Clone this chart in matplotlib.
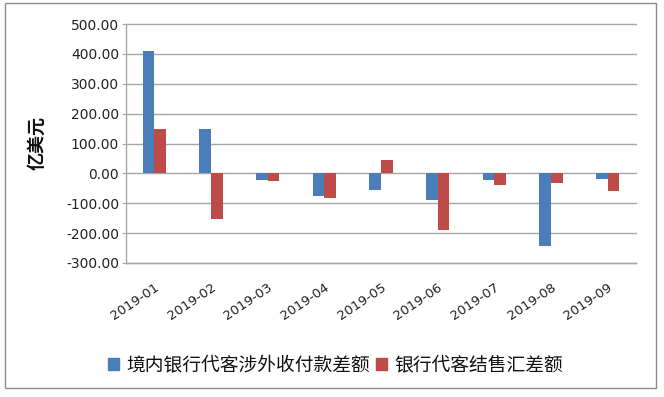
import matplotlib
matplotlib.use('Agg')
import matplotlib.pyplot as plt
import numpy as np
from matplotlib.patches import Rectangle

plt.rcParams['font.family'] = ['DejaVu Sans', 'Noto Sans CJK SC']

categories = ['2019-01', '2019-02', '2019-03', '2019-04', '2019-05',
              '2019-06', '2019-07', '2019-08', '2019-09']
series_names = ['境内银行代客涉外收付款差额', '银行代客结售汇差额']
cross_border_balance = [410, 149, -22, -77, -57, -89, -22, -242, -20]
fx_settlement_balance = [149, -152, -27, -81, 45, -189, -40, -31, -58]
y_ticks = [-300, -200, -100, 0, 100, 200, 300, 400, 500]
y_tick_labels = ['-300.00', '-200.00', '-100.00', '0.00', '100.00',
                 '200.00', '300.00', '400.00', '500.00']
y_label = '亿美元'

W, H = 664, 397
fig = plt.figure(figsize=(W / 100, H / 100), dpi=100)
fig.patch.set_facecolor('white')

# outer chart border
fig.patches.append(Rectangle((5 / W, 1 - 388 / H), (656 - 5) / W, (388 - 3) / H,
                             transform=fig.transFigure, fill=False,
                             edgecolor='#8c8c8c', linewidth=1.0))

ax = fig.add_axes([126 / W, 1 - 263 / H, (636 - 126) / W, (263 - 24) / H])

blue = '#4A7EBB'
red = '#BE4B48'
x = np.arange(len(categories))
bw = 0.205
ax.bar(x - bw / 2, cross_border_balance, width=bw, color=blue, zorder=3)
ax.bar(x + bw / 2, fx_settlement_balance, width=bw, color=red, zorder=3)

ax.set_xlim(-0.5, len(categories) - 0.5)
ax.set_ylim(y_ticks[0], y_ticks[-1])
ax.set_yticks(y_ticks)
ax.set_yticklabels(y_tick_labels)
ax.yaxis.grid(True, color='#a6a6a6', linewidth=1.0, zorder=0)
for gl in ax.get_ygridlines():
    gl.set_clip_on(False)
ax.set_axisbelow(True)

for s in ['top', 'right']:
    ax.spines[s].set_visible(False)
for s in ['left', 'bottom']:
    ax.spines[s].set_color('#a6a6a6')
    ax.spines[s].set_linewidth(1.0)

ax.tick_params(axis='y', length=3, color='#a6a6a6', labelsize=10,
               labelcolor='#222222', pad=2)
ax.set_xticks(x)
ax.set_xticklabels(categories, rotation=34, ha='right', va='top',
                   rotation_mode='anchor', fontsize=9.5, color='#222222')
ax.tick_params(axis='x', length=0, pad=13)

fig.text(37 / W, 1 - 143 / H, y_label, rotation=90, ha='center', va='center',
         fontsize=13, fontweight='bold', family=['Noto Sans CJK SC', 'DejaVu Sans'],
         color='#111111')

handles = [Rectangle((0, 0), 1, 1, color=blue), Rectangle((0, 0), 1, 1, color=red)]
leg = fig.legend(handles, series_names, loc='center', ncol=2,
                 bbox_to_anchor=(0.505, 1 - 365 / H), frameon=False,
                 prop={'family': ['Noto Sans CJK SC', 'DejaVu Sans'], 'size': 13.5},
                 handlelength=0.6, handleheight=0.6, handletextpad=0.4,
                 columnspacing=0.3)
for t in leg.get_texts():
    t.set_color('#111111')

fig.savefig('out.png', dpi=100, facecolor='white')
